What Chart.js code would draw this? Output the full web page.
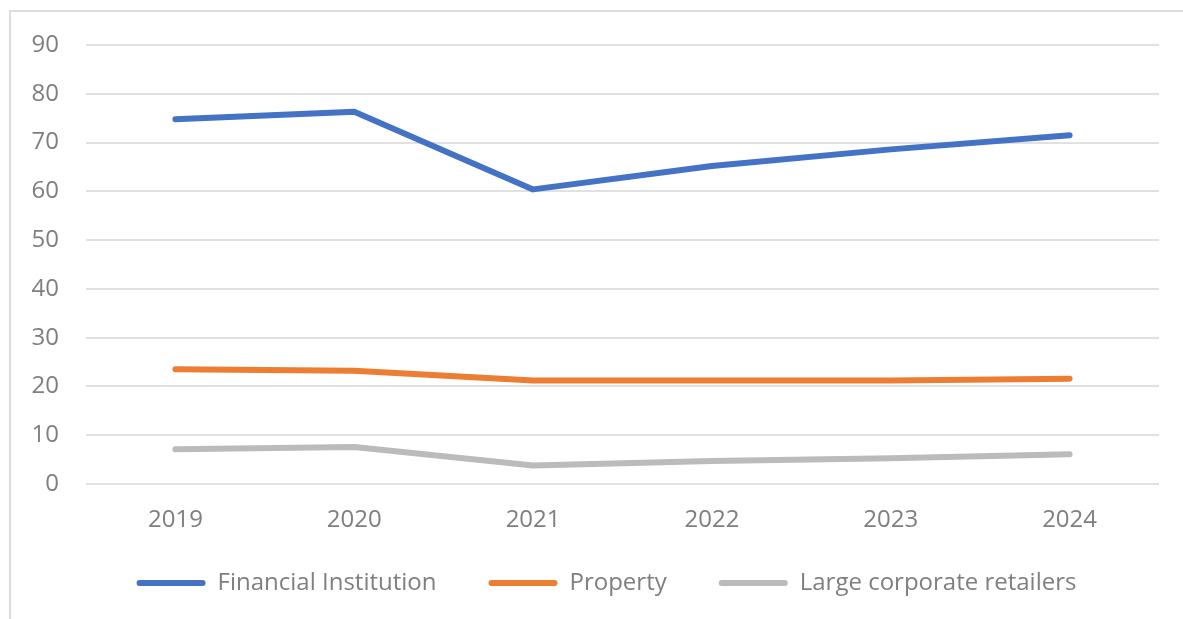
<!DOCTYPE html>
<html>
<head>
<meta charset="utf-8">
<script src="https://cdn.jsdelivr.net/npm/chart.js@4.4.1/dist/chart.umd.min.js"></script>
<style>
    body { margin: 0; background: #fff; overflow: hidden; }
    #frame {
        position: absolute; left: 9px; top: 10px; width: 1200px; height: 640px;
        border-left: 2px solid #dcdcdc; border-top: 2px solid #dcdcdc;
    }
    #riskChart { position: absolute; left: 0; top: 0; }
</style>
</head>
<body>
<div id="frame"></div>
<canvas id="riskChart" width="1183" height="619"></canvas>
<script>
const years = ['2019', '2020', '2021', '2022', '2023', '2024'];
const financialInstitution = [74.8, 76.3, 60.4, 65.2, 68.6, 71.5];
const property = [23.5, 23.2, 21.2, 21.2, 21.2, 21.6];
const largeRetailers = [7.1, 7.6, 3.8, 4.7, 5.3, 6.1];

const textColor = '#7f7f7f';
const fontFamily = "'Open Sans', sans-serif";
const plotBottom = 484;

function lineSeries(label, data, color) {
    return {
        label: label,
        data: data,
        borderColor: color,
        backgroundColor: color,
        borderWidth: 6,
        borderCapStyle: 'round',
        borderJoinStyle: 'round',
        pointRadius: 0,
        tension: 0,
        fill: false,
    };
}

// nudge the legend row up and right so it sits under the plot like the workbook chart
const legendOffset = {
    id: 'legendOffset',
    afterLayout(chart) {
        const legend = chart.legend;
        const dy = -14, dx = 12;
        legend.top += dy;
        legend.bottom += dy;
        legend.left += dx;
        legend.right += dx;
    },
};

const ctx = document.getElementById('riskChart').getContext('2d');
new Chart(ctx, {
    type: 'line',
    data: {
        labels: years,
        datasets: [
            lineSeries('Financial Institution', financialInstitution, '#4472c4'),
            lineSeries('Property', property, '#ed7d31'),
            lineSeries('Large corporate retailers', largeRetailers, '#bbbbbb'),
        ],
    },
    plugins: [legendOffset],
    options: {
        responsive: false,
        animation: false,
        layout: {
            padding: {top: 45, left: 30, right: 24, bottom: 0},
        },
        plugins: {
            tooltip: {enabled: false},
            legend: {
                position: 'bottom',
                labels: {
                    boxWidth: 69,
                    boxHeight: 6,
                    useBorderRadius: true,
                    borderRadius: 3,
                    padding: 52,
                    color: textColor,
                    font: {family: fontFamily, size: 24},
                    generateLabels: chart => Chart.defaults.plugins.legend.labels
                        .generateLabels(chart)
                        .map(item => ({...item, lineWidth: 0})),
                },
            },
        },
        scales: {
            x: {
                offset: true,
                grid: {display: false, drawTicks: false},
                border: {display: false},
                ticks: {
                    color: textColor,
                    padding: 22,
                    font: {family: fontFamily, size: 24},
                },
                afterFit: scale => {
                    scale.height = scale.chart.height - plotBottom - scale.chart.legend.height;
                },
            },
            y: {
                min: 0,
                max: 90,
                grid: {color: '#e1e1e1', lineWidth: 2, drawTicks: false},
                border: {display: false},
                ticks: {
                    stepSize: 10,
                    color: textColor,
                    padding: 27,
                    font: {family: fontFamily, size: 24},
                },
                afterFit: scale => { scale.width = 56; },
            },
        },
    },
});
</script>
</body>
</html>
